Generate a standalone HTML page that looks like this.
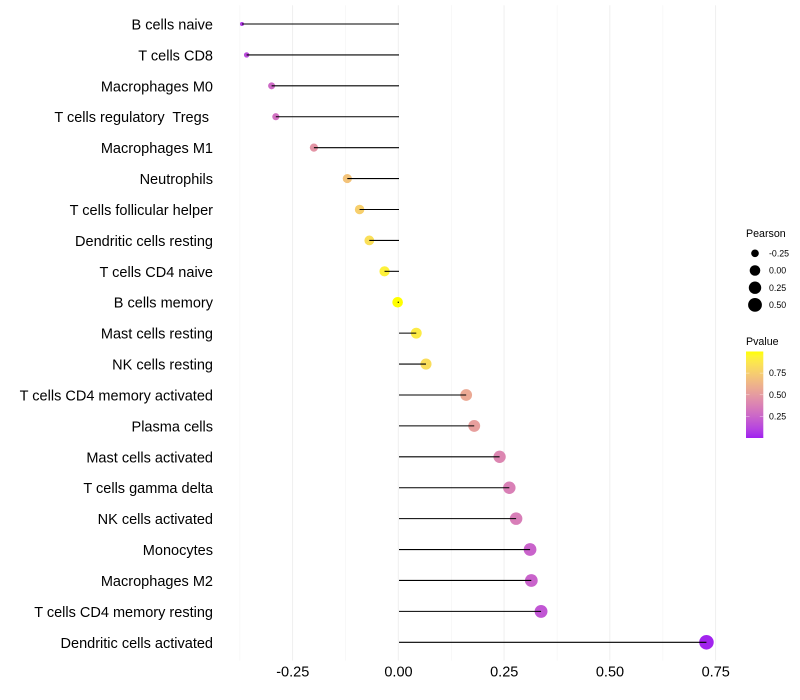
<!DOCTYPE html>
<html>
<head>
<meta charset="utf-8">
<title>Immune cell correlation lollipop chart</title>
<style>
html,body{margin:0;padding:0;background:#fff;}
svg{display:block;font-family:"Liberation Sans",Arial,sans-serif;}
text{white-space:pre;}
</style>
</head>
<body>
<svg id="chart" width="800" height="700" viewBox="0 0 800 700" xmlns="http://www.w3.org/2000/svg"></svg>
<script>
const cellTypes = ["B cells naive","T cells CD8","Macrophages M0","T cells regulatory  Tregs ","Macrophages M1","Neutrophils","T cells follicular helper","Dendritic cells resting","T cells CD4 naive","B cells memory","Mast cells resting","NK cells resting","T cells CD4 memory activated","Plasma cells","Mast cells activated","T cells gamma delta","NK cells activated","Monocytes","Macrophages M2","T cells CD4 memory resting","Dendritic cells activated"];
const pearson = [-0.37,-0.359,-0.30,-0.29,-0.20,-0.121,-0.092,-0.069,-0.033,-0.002,0.042,0.065,0.16,0.179,0.239,0.262,0.278,0.311,0.314,0.337,0.728];
const pvalue = [0.08,0.14,0.27,0.30,0.47,0.70,0.76,0.84,0.93,1.00,0.90,0.83,0.57,0.52,0.40,0.37,0.36,0.24,0.24,0.18,0.01];
const xMajorTicks = [-0.25,0,0.25,0.5,0.75];
const xTickLabels = ["-0.25","0.00","0.25","0.50","0.75"];
const xMinorTicks = [-0.375,-0.125,0.125,0.375,0.625];
const sizeLegendValues = [-0.25,0,0.25,0.5];
const sizeLegendLabels = ["-0.25","0.00","0.25","0.50"];
const colorLegendValues = [0.25,0.5,0.75];
const colorLegendLabels = ["0.25","0.50","0.75"];

const svg = document.getElementById('chart');
const NS = 'http://www.w3.org/2000/svg';
function make(tag, attrs, parent) {
  const el = document.createElementNS(NS, tag);
  for (const k in attrs) el.setAttribute(k, attrs[k]);
  (parent || svg).appendChild(el);
  return el;
}
const xScale = v => 398.5 + v * 423;
const yScale = i => 24 + i * 30.915;
const barTop = 351.5, barBottom = 438;
const pScale = p => barBottom - p * (barBottom - barTop);

const sizeDomain = [-0.375,-0.36,-0.3,-0.25,0,0.25,0.5,0.75];
const sizeRange = [1.7,2.7,3.5,3.8,5.3,6.2,6.9,7.3];
function rScale(v) {
  for (let i = 1; i < sizeDomain.length; i++) {
    if (v <= sizeDomain[i]) {
      const t = (v - sizeDomain[i-1]) / (sizeDomain[i] - sizeDomain[i-1]);
      return sizeRange[i-1] + t * (sizeRange[i] - sizeRange[i-1]);
    }
  }
  return sizeRange[sizeRange.length - 1];
}

function toLab(rgb) {
  const l = rgb.map(c => { c /= 255; return c <= 0.04045 ? c / 12.92 : Math.pow((c + 0.055) / 1.055, 2.4); });
  const X = (0.4124*l[0] + 0.3576*l[1] + 0.1805*l[2]) / 0.95047;
  const Y = 0.2126*l[0] + 0.7152*l[1] + 0.0722*l[2];
  const Z = (0.0193*l[0] + 0.1192*l[1] + 0.9505*l[2]) / 1.08883;
  const f = t => t > 0.008856 ? Math.cbrt(t) : 7.787 * t + 16 / 116;
  return [116*f(Y) - 16, 500*(f(X) - f(Y)), 200*(f(Y) - f(Z))];
}
function fromLab(lab) {
  const fy = (lab[0] + 16) / 116, fx = fy + lab[1] / 500, fz = fy - lab[2] / 200;
  const g = t => t*t*t > 0.008856 ? t*t*t : (t - 16/116) / 7.787;
  const X = g(fx)*0.95047, Y = g(fy), Z = g(fz)*1.08883;
  const lin = [3.2406*X - 1.5372*Y - 0.4986*Z, -0.9689*X + 1.8758*Y + 0.0415*Z, 0.0557*X - 0.2040*Y + 1.0570*Z];
  return lin.map(c => {
    c = c <= 0.0031308 ? 12.92 * c : 1.055 * Math.pow(Math.max(c, 0), 1/2.4) - 0.055;
    return Math.round(Math.min(1, Math.max(0, c)) * 255);
  });
}
const labLow = toLab([160,32,240]), labHigh = toLab([255,255,0]);
function colorScale(p) {
  const c = fromLab(labLow.map((a, i) => a + p * (labHigh[i] - a)));
  return 'rgb(' + c.join(',') + ')';
}

// Background
const bg = make('rect', {x:0, y:0, width:800, height:700, fill:'#fff'});



// Gridlines
const panelTop = 5.3, panelBottom = 660.5;
xMinorTicks.forEach(v => {
  const g = make('line', {x1:xScale(v), x2:xScale(v), y1:panelTop, y2:panelBottom, stroke:'#f2f2f2', 'stroke-width':0.6});
  
  
});
xMajorTicks.forEach(v => {
  const g = make('line', {x1:xScale(v) - 0.2, x2:xScale(v) - 0.2, y1:panelTop, y2:panelBottom, stroke:'#efefef', 'stroke-width':1});
  
  
});

// Points
cellTypes.forEach((name, i) => {
  const c = make('circle', {cx:xScale(pearson[i]), cy:yScale(i), r:rScale(pearson[i]), fill:colorScale(pvalue[i])});
  
  
});
// Stems
cellTypes.forEach((name, i) => {
  const l = make('line', {x1:xScale(0) + 0.5, x2:xScale(pearson[i]), y1:yScale(i), y2:yScale(i), stroke:'#000', 'stroke-width':1.07});
  
  
});
// Y labels
cellTypes.forEach((name, i) => {
  const t = make('text', {x:213, y:yScale(i) + 5.5, 'text-anchor':'end', 'font-size':14.52, fill:'#000'});
  t.textContent = name;
  
  
});
// X labels
xMajorTicks.forEach((v, i) => {
  const t = make('text', {x:xScale(v), y:676.5, 'text-anchor':'middle', 'font-size':14.52, fill:'#000'});
  t.textContent = xTickLabels[i];
  
  
});

// Size legend
const sizeTitle = make('text', {x:746, y:237, 'font-size':10.67, fill:'#000'});
sizeTitle.textContent = 'Pearson';


sizeLegendValues.forEach((v, i) => {
  const y = 253.3 + i * 17.2;
  const c = make('circle', {cx:755, cy:y, r:rScale(v), fill:'#000'});
  
  
  const t = make('text', {x:769, y:y + 3.1, 'font-size':8.8, fill:'#000'});
  t.textContent = sizeLegendLabels[i];
  
  
});

// Colour legend
const colorTitle = make('text', {x:746, y:345, 'font-size':10.67, fill:'#000'});
colorTitle.textContent = 'Pvalue';


const defs = make('defs', {});
const grad = make('linearGradient', {id:'pvalue-gradient', x1:0, y1:1, x2:0, y2:0}, defs);
for (let s = 0; s <= 20; s++) {
  make('stop', {offset:(s * 5) + '%', 'stop-color':colorScale(s / 20)}, grad);
}
const bar = make('rect', {x:746, y:barTop, width:17.3, height:barBottom - barTop, fill:'url(#pvalue-gradient)'});


colorLegendValues.forEach((v, i) => {
  const y = pScale(v);
  const a = make('line', {x1:746, x2:749.5, y1:y, y2:y, stroke:'#fff', 'stroke-opacity':0.6, 'stroke-width':0.6});
  
  
  const b = make('line', {x1:759.8, x2:763.3, y1:y, y2:y, stroke:'#fff', 'stroke-opacity':0.6, 'stroke-width':0.6});
  
  
  const t = make('text', {x:769, y:y + 3.1, 'font-size':8.8, fill:'#000'});
  t.textContent = colorLegendLabels[i];
  
  
});
</script>
</body>
</html>
